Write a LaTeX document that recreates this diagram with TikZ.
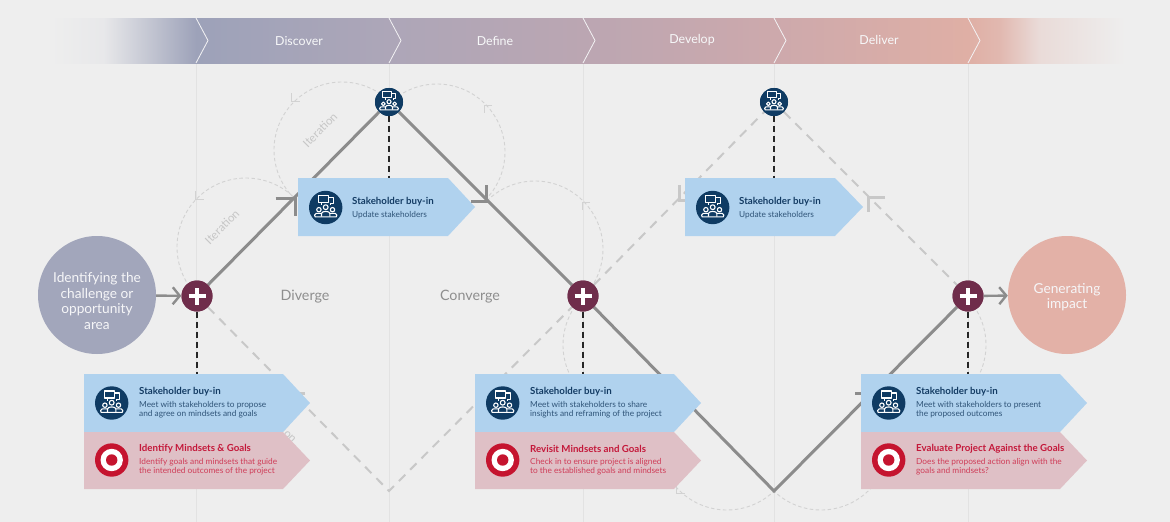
\documentclass[tikz,border=0pt]{standalone}
\usepackage{fontspec}
\setmainfont{Lato}
\usetikzlibrary{arrows.meta}
\definecolor{bgc}{HTML}{EEEEEE}
\definecolor{vlinec}{HTML}{E2E2E2}
\definecolor{bandA}{HTML}{9DA2B9}
\definecolor{bandB}{HTML}{ADA6B8}
\definecolor{bandC}{HTML}{BBA6B2}
\definecolor{bandD}{HTML}{CDA9AC}
\definecolor{bandE}{HTML}{DFAFA5}
\definecolor{leftcirc}{HTML}{A2A6BB}
\definecolor{rightcirc}{HTML}{E3B1A7}
\definecolor{plusc}{HTML}{6F2D4B}
\definecolor{navy}{HTML}{0F3B63}
\definecolor{solidg}{HTML}{8C8C8C}
\definecolor{dashg}{HTML}{C8C8C8}
\definecolor{arcg}{HTML}{D2D2D2}
\definecolor{bluebox}{HTML}{B0D2EE}
\definecolor{redbox}{HTML}{DFC0C6}
\definecolor{titleblue}{HTML}{143C64}
\definecolor{descblue}{HTML}{2F5478}
\definecolor{titlered}{HTML}{C4183A}
\definecolor{descred}{HTML}{CF3D58}
\definecolor{targetred}{HTML}{C5142F}
\definecolor{labelg}{HTML}{8E8E8E}
\definecolor{iterg}{HTML}{C6C6C6}
\pgfdeclarehorizontalshading{bandsh}{100bp}{
 color(0bp)=(bgc); color(25bp)=(bgc); color(27.5bp)=(bgc!92!bandA); color(29.5bp)=(bgc!50!bandA); color(31.8bp)=(bandA);
 color(40.8bp)=(bandB); color(49.8bp)=(bandC); color(58.7bp)=(bandD); color(67.7bp)=(bandE);
 color(69.2bp)=(bandE!85!bgc); color(71bp)=(bandE!30!bgc); color(75bp)=(bgc); color(100bp)=(bgc)}
\tikzset{
 x=1pt,y=-1pt,
 solidline/.style={draw=solidg,line width=3pt},
 dashline/.style={draw=dashg,line width=2pt,dash pattern=on 9pt off 7pt},
 thinarc/.style={draw=arcg,line width=0.9pt,dash pattern=on 3.5pt off 2.5pt},
 archeadline/.style={draw=arcg,line width=0.9pt},
 blackdash/.style={draw=black!85,line width=2.6pt,dash pattern=on 6pt off 4pt},
 plusnode/.style={circle,fill=plusc,minimum size=31pt,inner sep=0pt},
 topnode/.style={circle,fill=navy,minimum size=28pt,inner sep=0pt},
 bigcirc/.style={circle,minimum size=118pt,inner sep=0pt},
 circtext/.style={text=white!90!leftcirc,font=\fontsize{13.7}{15.6}\selectfont,align=center},
 bandtext/.style={text=white!92!bandA,font=\fontsize{12.4}{14}\selectfont},
 phasetext/.style={text=labelg,font=\fontsize{14.3}{16}\selectfont},
 itertext/.style={text=iterg,font=\fontsize{11.5}{13}\selectfont,rotate=45},
 titleB/.style={anchor=west,inner sep=0pt,text=titleblue,font=\fontsize{9.7}{11}\selectfont\bfseries},
 descB/.style={anchor=west,inner sep=0pt,text=descblue,align=left,font=\fontsize{8.3}{9.6}\selectfont},
 titleR/.style={anchor=west,inner sep=0pt,text=titlered,font=\fontsize{9.7}{11}\selectfont\bfseries},
 descR/.style={anchor=west,inner sep=0pt,text=descred,align=left,font=\fontsize{8.3}{9.6}\selectfont},
 peoplepic/.pic={
  \fill[navy] (0,0) circle (16.7);
  \begin{scope}[draw=white,line width=1.1pt,line join=round]
   \draw (-7.5,-12) rectangle (3,-5);
   \draw (3,-10) -- (7.5,-10) -- (7.5,-3.8) -- (5,-3.8) -- (5,-2.2);
   \draw (-4.5,-5) -- (-4.5,-2.5);
   \draw (0,-0.3) circle (2.4);
   \draw (-6.8,2.2) circle (2.2);
   \draw (6.8,2.2) circle (2.2);
   \draw (-4.2,9.2) -- (-4.2,6) .. controls (-4.2,3.2) and (4.2,3.2) .. (4.2,6) -- (4.2,9.2);
   \draw (-4.2,5.8) -- (-9.5,5.8) .. controls (-11.5,5.8) and (-11.5,9.4) .. (-10.5,9.4) -- (10.5,9.4) .. controls (11.5,9.4) and (11.5,5.8) .. (9.5,5.8) -- (4.2,5.8);
  \end{scope}
 },
 targetpic/.pic={
  \fill[targetred] (0,0) circle (16.7);
  \fill[white] (0,0) circle (11.2);
  \fill[targetred] (0,0) circle (5.7);
 }
}
% arc of a thin iteration circle, angles measured on the screen
\newcommand{\iterarc}[5]{\draw[thinarc] plot[domain=#4:#5,samples=70] ({#1+#3*cos(\x)},{#2+#3*sin(\x)});}
% right-angled open head made of two arms (shifts are in page directions: y up)
\newcommand{\armhead}[4]{\draw[draw=#4,line width=3pt] ([xshift=#2pt]#1) -- (#1) -- ([yshift=#3pt]#1);}
\newcommand{\pentagon}[7]{\fill[#7] (#2,#3) -- (#4,#3) -- (#5,{(#3+#6)/2}) -- (#4,#6) -- (#2,#6) -- cycle;
  \coordinate (#1) at (#2,#3);}
\begin{document}
\begin{tikzpicture}
\useasboundingbox (0,0) rectangle (1170,522);
\fill[bgc] (0,0) rectangle (1170,522);
% vertical guides
\foreach \vx/\vn in {196/a,389/b,583/c,774/d,968/e}{
 \coordinate (vt\vn) at (\vx,63); \coordinate (vb\vn) at (\vx,522);
 \draw[vlinec,line width=1pt] (vt\vn) -- (vb\vn);
}
% band
\shade[shading=bandsh] (50,18) rectangle (1125,63);
\foreach \vx in {196,389,583,774,968}{
 \draw[white!85!bandB,line width=0.8pt] (\vx,18) -- (\vx+12,40.5) -- (\vx,63);
}
\node[bandtext] (bdiscover) at (299,41) {Discover};
\node[bandtext] (bdefine) at (495,41) {Define};
\node[bandtext] (bdevelop) at (692,40) {Develop};
\node[bandtext] (bdeliver) at (879,40) {Deliver};
% main nodes
\node[bigcirc,fill=leftcirc] (leftc) at (97,295) {};
\node[bigcirc,fill=rightcirc] (rightc) at (1067,295) {};
\node[plusnode] (plusA) at (197,296) {};
\node[plusnode] (plusB) at (583,296) {};
\node[plusnode] (plusC) at (968,296) {};
\node[topnode] (topA) at (389,102) {};
\node[topnode] (topB) at (774,102) {};
\coordinate (lowA) at (389,491);
\coordinate (lowB) at (774,491);
\coordinate (mA) at (295.5,198);
\coordinate (mB) at (486,201);
\coordinate (mC) at (679,200);
\coordinate (mD) at (868,197);
\coordinate (mE) at (292,393);
\coordinate (mF) at (680,393);
\coordinate (mG) at (868,393);
% iteration circles
\iterarc{246}{247}{69}{135}{315}
\iterarc{342}{150}{68}{135}{315}
\iterarc{437}{152}{68}{225}{405}
\iterarc{535}{249}{68}{225}{405}
\iterarc{631}{345}{68}{45}{225}
\iterarc{727}{442}{68}{45}{225}
\iterarc{821}{442}{68}{-45}{135}
\iterarc{918}{345}{68}{-45}{135}
\draw[archeadline] (195,191) -- (195,199.5) -- (204,199.5);
\draw[archeadline] (291,93) -- (291,101.5) -- (300,101.5);
\draw[archeadline] (492,105) -- (484,105) -- (484,113);
\draw[archeadline] (590,202) -- (582,202) -- (582,210);
\draw[archeadline] (676,485) -- (676,493) -- (685,493);
\node[itertext] (itA) at (222,227) {Iteration};
\node[itertext] (itB) at (320,130) {Iteration};
\node[itertext,rotate=-90] (itC) at (280,425) {Iteration};
% dashed path
\draw[dashline] (plusA) -- (lowA) -- (plusB) -- (topB) -- (plusC);
\armhead{mC}{7}{15}{dashg}
\armhead{mD}{17}{-15}{dashg}
\armhead{mE}{13}{0}{dashg}
% solid path
\draw[solidline] (plusA) -- (topA);
\draw[solidline] (topA) -- (plusB);
\draw[solidline] (plusB) -- (lowB) -- (plusC);
\armhead{mA}{-20}{-18}{solidg}
\armhead{mF}{-8}{8}{solidg}
\armhead{mG}{-13}{8}{solidg}
% boxes
\pentagon{bxA}{298}{178}{448}{475}{236}{bluebox}
\pentagon{bxB}{685}{178}{835}{863}{236}{bluebox}
\pentagon{bxC}{84}{374}{283}{310}{432}{bluebox}
\pentagon{bxD}{475}{374}{674}{701}{432}{bluebox}
\pentagon{bxE}{861}{374}{1060}{1087}{432}{bluebox}
\pentagon{rxC}{84}{432}{283}{310}{489}{redbox}
\pentagon{rxD}{475}{432}{674}{701}{489}{redbox}
\pentagon{rxE}{861}{432}{1060}{1087}{489}{redbox}
\armhead{mB}{-15}{16}{solidg}
% black dashed links
\coordinate (linkA) at (197,374); \coordinate (linkB) at (583,374); \coordinate (linkC) at (968,374);
\coordinate (linkD) at (389,178); \coordinate (linkE) at (774,178);
\draw[blackdash] (plusA) -- (linkA);
\draw[blackdash] (plusB) -- (linkB);
\draw[blackdash] (plusC) -- (linkC);
\draw[blackdash] (topA) -- (linkD);
\draw[blackdash] (topB) -- (linkE);
% redraw node discs over the lines
\node[plusnode] at (plusA) {};
\node[plusnode] at (plusB) {};
\node[plusnode] at (plusC) {};
\foreach \pn in {plusA,plusB,plusC}{
 \draw[white,line width=3.6pt] ([xshift=-8.5pt]\pn.center) -- ([xshift=8.5pt]\pn.center);
 \draw[white,line width=3.6pt] ([yshift=-8.5pt]\pn.center) -- ([yshift=8.5pt]\pn.center);
}
\pic[scale=0.84] at (topA) {peoplepic};
\pic[scale=0.84] at (topB) {peoplepic};
% connectors with circles
\draw[solidg,line width=2.4pt,-{Straight Barb[length=7pt,width=17pt]}] (leftc) -- (plusA);
\draw[solidg,line width=2.4pt,-{Straight Barb[length=7pt,width=17pt]}] (plusC) -- (rightc);
% texts
\node[circtext] (ctA) at (97,301) {Identifying the\\challenge or\\opportunity\\area};
\node[circtext] (ctB) at (1067,297) {Generating\\impact};
\node[phasetext] (diverge) at (305,296.5) {Diverge};
\node[phasetext] (converge) at (470,296.5) {Converge};
% icons
\pic at (325.7,207.5) {peoplepic};
\pic at (712.7,207.5) {peoplepic};
\pic at (111.7,403) {peoplepic};
\pic at (502.7,403) {peoplepic};
\pic at (888.7,403) {peoplepic};
\pic at (111.7,460) {targetpic};
\pic at (502.7,460) {targetpic};
\pic at (888.7,460) {targetpic};
% box texts
\node[titleB] (tA) at (352,202) {Stakeholder buy-in};
\node[descB] (dA) at (352,215) {Update stakeholders};
\node[titleB] (tB) at (739,202) {Stakeholder buy-in};
\node[descB] (dB) at (739,215) {Update stakeholders};
\node[titleB] (tC) at (139,392) {Stakeholder buy-in};
\node[descB] (dC) at (139,409.5) {Meet with stakeholders to propose\\and agree on mindsets and goals};
\node[titleR] (tD) at (139,449) {Identify Mindsets \& Goals};
\node[descR] (dD) at (139,466.5) {Identify goals and mindsets that guide\\the intended outcomes of the project};
\node[titleB] (tE) at (530,392) {Stakeholder buy-in};
\node[descB] (dE) at (530,409.5) {Meet with stakeholders to share\\insights and reframing of the project};
\node[titleR] (tF) at (530,449) {Revisit Mindsets and Goals};
\node[descR] (dF) at (530,466.5) {Check in to ensure project is aligned\\to the established goals and mindsets};
\node[titleB] (tG) at (916,392) {Stakeholder buy-in};
\node[descB] (dG) at (916,409.5) {Meet with stakeholders to present\\the proposed outcomes};
\node[titleR] (tH) at (916,449) {Evaluate Project Against the Goals};
\node[descR] (dH) at (916,466.5) {Does the proposed action align with the\\goals and mindsets?};
\end{tikzpicture}
\end{document}
